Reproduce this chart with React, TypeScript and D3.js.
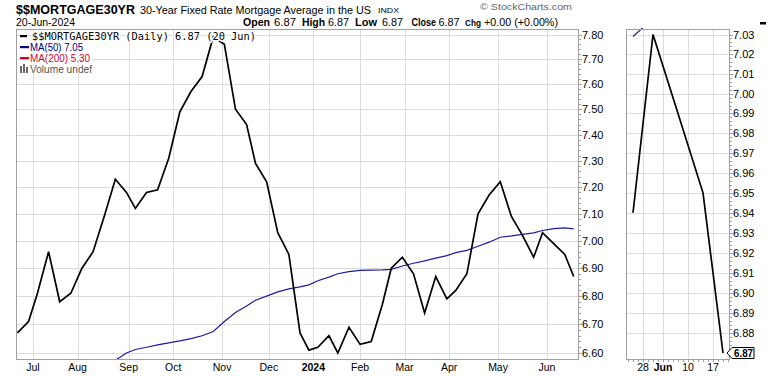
import React from "react";
import * as d3 from "d3";

// ---------- DATA ----------
const weekDates: string[] = [
  "2023-06-22","2023-06-29","2023-07-06","2023-07-13","2023-07-20","2023-07-27",
  "2023-08-03","2023-08-10","2023-08-17","2023-08-24","2023-08-31","2023-09-07",
  "2023-09-14","2023-09-21","2023-09-28","2023-10-05","2023-10-12","2023-10-19",
  "2023-10-26","2023-11-02","2023-11-09","2023-11-16","2023-11-22","2023-11-30",
  "2023-12-07","2023-12-14","2023-12-21","2023-12-28","2024-01-04","2024-01-11",
  "2024-01-18","2024-01-25","2024-02-01","2024-02-08","2024-02-15","2024-02-22",
  "2024-02-29","2024-03-07","2024-03-14","2024-03-21","2024-03-28","2024-04-04",
  "2024-04-11","2024-04-18","2024-04-25","2024-05-02","2024-05-09","2024-05-16",
  "2024-05-23","2024-05-30","2024-06-06","2024-06-13","2024-06-20",
];
const closeValues: number[] = [
  6.67, 6.71, 6.81, 6.96, 6.78, 6.81,
  6.90, 6.96, 7.09, 7.23, 7.18, 7.12,
  7.18, 7.19, 7.31, 7.49, 7.57, 7.63,
  7.79, 7.76, 7.50, 7.44, 7.29, 7.22,
  7.03, 6.95, 6.67, 6.61, 6.62, 6.66,
  6.60, 6.69, 6.63, 6.64, 6.77, 6.90,
  6.94, 6.88, 6.74, 6.87, 6.79, 6.82,
  6.88, 7.10, 7.17, 7.22, 7.09, 7.02,
  6.94, 7.03, 6.99, 6.95, 6.87,
];
const ma50Dates: string[] = weekDates.slice(9);
const ma50Values: number[] = [
  6.575, 6.600, 6.612, 6.620, 6.628, 6.635, 6.642, 6.650, 6.660, 6.675,
  6.710, 6.742, 6.765, 6.785, 6.800, 6.815, 6.826, 6.833, 6.840, 6.855,
  6.868, 6.880, 6.888, 6.892, 6.893, 6.894, 6.896, 6.908, 6.918, 6.927,
  6.937, 6.946, 6.957, 6.965, 6.980, 6.995, 7.013, 7.018, 7.024, 7.029,
  7.038, 7.045, 7.048, 7.044,
];
const holidays: string[] = [
  "2023-07-04","2023-09-04","2023-11-23","2023-12-25","2024-01-01",
  "2024-01-15","2024-02-19","2024-03-29","2024-05-27","2024-06-19",
];
const monthStarts: string[] = [
  "2023-07-01","2023-08-01","2023-09-01","2023-10-01","2023-11-01","2023-12-01",
  "2024-01-01","2024-02-01","2024-03-01","2024-04-01","2024-05-01","2024-06-01",
];
const monthLabels: string[] = ["Jul","Aug","Sep","Oct","Nov","Dec","2024","Feb","Mar","Apr","May","Jun"];
const mainYTicks: number[] = [6.6,6.7,6.8,6.9,7.0,7.1,7.2,7.3,7.4,7.5,7.6,7.7,7.8];
const zoomDates: string[] = ["2024-05-28","2024-06-03","2024-06-10","2024-06-17"];
const zoomLabels: string[] = ["28","Jun","10","17"];
const zoomYTicks: number[] = [6.88,6.89,6.90,6.91,6.92,6.93,6.94,6.95,6.96,6.97,6.98,6.99,7.00,7.01,7.02,7.03];
const zoomStart = "2024-05-23";
const statLabels: string[] = ["Open","High","Low","Close","Chg"];
const statValues: string[] = ["6.87","6.87","6.87","6.87","+0.00 (+0.00%)"];

// ---------- trading-day index ----------
const holidaySet = new Set(holidays);
const BASE = Date.UTC(2023, 5, 1);
function isTrading(t: number): boolean {
  const d = new Date(t);
  const wd = d.getUTCDay();
  if (wd === 0 || wd === 6) return false;
  return !holidaySet.has(d.toISOString().slice(0, 10));
}
function ti(s: string): number {
  const [y, m, d] = s.split("-").map(Number);
  const target = Date.UTC(y, m - 1, d);
  let n = 0;
  for (let t = BASE; t < target; t += 86400000) if (isTrading(t)) n++;
  return n;
}
function firstTradingOnOrAfter(s: string): number {
  const [y, m, d] = s.split("-").map(Number);
  let t = Date.UTC(y, m - 1, d);
  while (!isTrading(t)) t += 86400000;
  return ti(new Date(t).toISOString().slice(0, 10));
}

const MP = { left: 16, right: 579, top: 29, bottom: 360 };
const RP = { left: 626, right: 730, top: 29, bottom: 360 };

const xMain = d3.scaleLinear().domain([firstTradingOnOrAfter("2023-07-01"), firstTradingOnOrAfter("2024-06-01")]).range([33, 547]);
const yMain = d3.scaleLog().domain([6.6, 7.8]).range([353, 34.5]);
const xZoom = d3.scaleLinear().domain([ti(zoomStart), ti("2024-06-20")]).range([633, 723]);
const yZoom = d3.scaleLog().domain([6.87, 7.03]).range([353, 34.5]);

const closePts: [number, number][] = weekDates.map((d, i) => [ti(d), closeValues[i]]);
const maPts: [number, number][] = ma50Dates.map((d, i) => [ti(d), ma50Values[i]]);
const zoomClose = closePts.slice(weekDates.indexOf(zoomStart));
const zoomMa = maPts.slice(ma50Dates.indexOf(zoomStart));

const FONT = "'Liberation Sans', Arial, sans-serif";

// header stat layout: [labelX, labelW, valueX, valueW, labelFontSize]
const statBoxes: number[][] = [
  [243, 27, 274, 22, 10.5],
  [302, 23, 328, 21, 10.5],
  [355, 22, 382, 21, 10.5],
  [411.5, 24.5, 438.5, 21, 10],
  [465, 16, 484, 74, 9],
];

export default function App() {
  const lineMain = d3.line<[number, number]>().x(d => xMain(d[0])).y(d => yMain(d[1]));
  const lineZoom = d3.line<[number, number]>().x(d => xZoom(d[0])).y(d => yZoom(d[1]));
  const monthX = monthStarts.map(s => xMain(firstTradingOnOrAfter(s)));
  const minorMain = d3.range(330, 391).filter(v => v % 5 !== 0).map(v => v / 50);
  const minorZoom = d3.range(3435, 3516).filter(v => v % 5 !== 0).map(v => v / 500);
  const zoomDays: number[] = d3.range(Math.ceil(xZoom.invert(RP.left)), Math.floor(xZoom.invert(RP.right)) + 1);
  const grid = "#dcdcdc";
  const border = "#a0a0a0";
  const yTag = yZoom(6.87);

  return (
    <svg width={770} height={376} style={{ position: "absolute", left: 0, top: 0, background: "#fff" }} fontFamily={FONT}>
      <defs>
        <clipPath id="clipMain"><rect x={MP.left} y={MP.top} width={MP.right - MP.left} height={MP.bottom - MP.top} /></clipPath>
        <clipPath id="clipZoom"><rect x={RP.left} y={RP.top - 1} width={RP.right - RP.left} height={RP.bottom - RP.top + 1} /></clipPath>
      </defs>
      <rect width={770} height={376} fill="#fff" />

      {/* header */}
      <text x={16} y={13.5} fontSize={13} fontWeight="bold" textLength={119} lengthAdjust="spacingAndGlyphs">$$MORTGAGE30YR</text>
      <text x={140} y={13.5} fontSize={11} textLength={231} lengthAdjust="spacingAndGlyphs">30-Year Fixed Rate Mortgage Average in the US</text>
      <text x={378} y={13} fontSize={8} textLength={21} lengthAdjust="spacingAndGlyphs">INDX</text>
      <text x={480} y={9.5} fontSize={9} fill="#666" textLength={92} lengthAdjust="spacingAndGlyphs">© StockCharts.com</text>
      <text x={16} y={26} fontSize={10} textLength={59} lengthAdjust="spacingAndGlyphs">20-Jun-2024</text>
      <g fontSize={10.5}>
        {statLabels.map((l, i) => (
          <g key={l}>
            <text x={statBoxes[i][0]} y={26} fontWeight="bold" fontSize={statBoxes[i][4]} textLength={statBoxes[i][1]} lengthAdjust="spacingAndGlyphs">{l}</text>
            <text x={statBoxes[i][2]} y={26} textLength={statBoxes[i][3]} lengthAdjust="spacingAndGlyphs">{statValues[i]}</text>
          </g>
        ))}
      </g>
      <rect x={760} y={22} width={6} height={2.5} fill="#000" />

      {/* main panel grid */}
      <g stroke={grid} strokeWidth={1}>
        {mainYTicks.map(v => (
          <line key={"hy" + v} x1={MP.left} x2={MP.right} y1={Math.round(yMain(v)) + 0.5} y2={Math.round(yMain(v)) + 0.5} />
        ))}
        {monthX.map((x, i) => (
          <line key={"vx" + i} x1={Math.round(x) + 0.5} x2={Math.round(x) + 0.5} y1={MP.top} y2={MP.bottom} />
        ))}
      </g>
      <g clipPath="url(#clipMain)" fill="none">
        <path d={lineMain(maPts) || ""} stroke="#1c1ca0" strokeWidth={1.2} />
        <path d={lineMain(closePts) || ""} stroke="#000" strokeWidth={1.7} />
      </g>
      <rect x={MP.left + 0.5} y={MP.top + 0.5} width={MP.right - MP.left - 1} height={MP.bottom - MP.top - 1} fill="none" stroke={border} />

      {/* main y axis */}
      <g stroke={border}>
        {mainYTicks.map(v => (
          <line key={"t" + v} x1={MP.right} x2={MP.right + 3} y1={Math.round(yMain(v)) + 0.5} y2={Math.round(yMain(v)) + 0.5} />
        ))}
        {minorMain.map(v => (
          <line key={"m" + v} x1={MP.right} x2={MP.right + 2} y1={Math.round(yMain(v)) + 0.5} y2={Math.round(yMain(v)) + 0.5} />
        ))}
      </g>
      <g fontSize={11} fill="#000">
        {mainYTicks.map(v => (
          <text key={"l" + v} x={582} y={yMain(v) + 4}>{v.toFixed(2)}</text>
        ))}
      </g>
      {/* main x axis */}
      <g fontSize={10.5} textAnchor="middle">
        {monthLabels.map((l, i) => (
          <text key={l} x={monthX[i]} y={371} fontWeight={l === "2024" ? "bold" : "normal"}>{l}</text>
        ))}
      </g>

      {/* legend */}
      <g style={{ paintOrder: "stroke" } as any} stroke="#fff" strokeWidth={3} strokeLinejoin="round">
        <text x={32} y={39.5} fontSize={10} fontFamily="'DejaVu Sans Mono', monospace" fill="#000" textLength={224} lengthAdjust="spacingAndGlyphs">$$MORTGAGE30YR (Daily) 6.87 (20 Jun)</text>
        <text x={30} y={50.5} fontSize={10} fill="#000080" textLength={53} lengthAdjust="spacingAndGlyphs">MA(50) 7.05</text>
        <text x={30} y={61.5} fontSize={10} fill="#cc0033" textLength={60} lengthAdjust="spacingAndGlyphs">MA(200) 5.30</text>
        <text x={30} y={72.5} fontSize={10} fill="#555" textLength={62} lengthAdjust="spacingAndGlyphs">Volume undef</text>
      </g>
      <rect x={20} y={35} width={7} height={2.2} fill="#000" />
      <rect x={20} y={46} width={9} height={2.2} fill="#000080" />
      <rect x={20} y={57} width={9} height={2.2} fill="#cc0033" />
      <g fill="#666">
        <rect x={20} y={66} width={2} height={7} />
        <rect x={23} y={64} width={2} height={9} />
        <rect x={26} y={67} width={2} height={6} />
      </g>

      {/* zoom panel */}
      <g stroke={grid} strokeWidth={1}>
        {zoomYTicks.map(v => (
          <line key={"zh" + v} x1={RP.left} x2={RP.right} y1={Math.round(yZoom(v)) + 0.5} y2={Math.round(yZoom(v)) + 0.5} />
        ))}
        {zoomDates.map(d => (
          <line key={"zv" + d} x1={Math.round(xZoom(ti(d))) + 0.5} x2={Math.round(xZoom(ti(d))) + 0.5} y1={RP.top} y2={RP.bottom} />
        ))}
      </g>
      <g clipPath="url(#clipZoom)" fill="none">
        <path d={lineZoom(zoomMa) || ""} stroke="#1c1ca0" strokeWidth={1.2} />
        <path d={lineZoom(zoomClose) || ""} stroke="#000" strokeWidth={1.7} />
      </g>
      <rect x={RP.left + 0.5} y={RP.top + 0.5} width={RP.right - RP.left - 1} height={RP.bottom - RP.top - 1} fill="none" stroke={border} />
      <g stroke={border}>
        {zoomYTicks.map(v => (
          <line key={"zt" + v} x1={RP.right} x2={RP.right + 3} y1={Math.round(yZoom(v)) + 0.5} y2={Math.round(yZoom(v)) + 0.5} />
        ))}
        {minorZoom.map(v => (
          <line key={"zm" + v} x1={RP.right} x2={RP.right + 2} y1={Math.round(yZoom(v)) + 0.5} y2={Math.round(yZoom(v)) + 0.5} />
        ))}
        {zoomDays.map(d => (
          <line key={"zd" + d} x1={Math.round(xZoom(d)) + 0.5} x2={Math.round(xZoom(d)) + 0.5} y1={RP.bottom} y2={RP.bottom + 2} />
        ))}
      </g>
      <g fontSize={11}>
        {zoomYTicks.map(v => (
          <text key={"zl" + v} x={733} y={yZoom(v) + 4}>{v.toFixed(2)}</text>
        ))}
      </g>
      <g fontSize={10.5} textAnchor="middle">
        {zoomDates.map((d, i) => (
          <text key={"zx" + d} x={xZoom(ti(d))} y={371} fontWeight={zoomLabels[i] === "Jun" ? "bold" : "normal"}>{zoomLabels[i]}</text>
        ))}
      </g>
      {/* last value tag */}
      <path d={`M727,${yTag} L732,${yTag - 5.5} L754,${yTag - 5.5} L754,${yTag + 5.5} L732,${yTag + 5.5} Z`} fill="#fff" stroke="#000" strokeWidth={1} />
      <text x={734} y={yTag + 4} fontSize={10.5} fontWeight="bold" textLength={19} lengthAdjust="spacingAndGlyphs">{closeValues[closeValues.length - 1].toFixed(2)}</text>
    </svg>
  );
}
